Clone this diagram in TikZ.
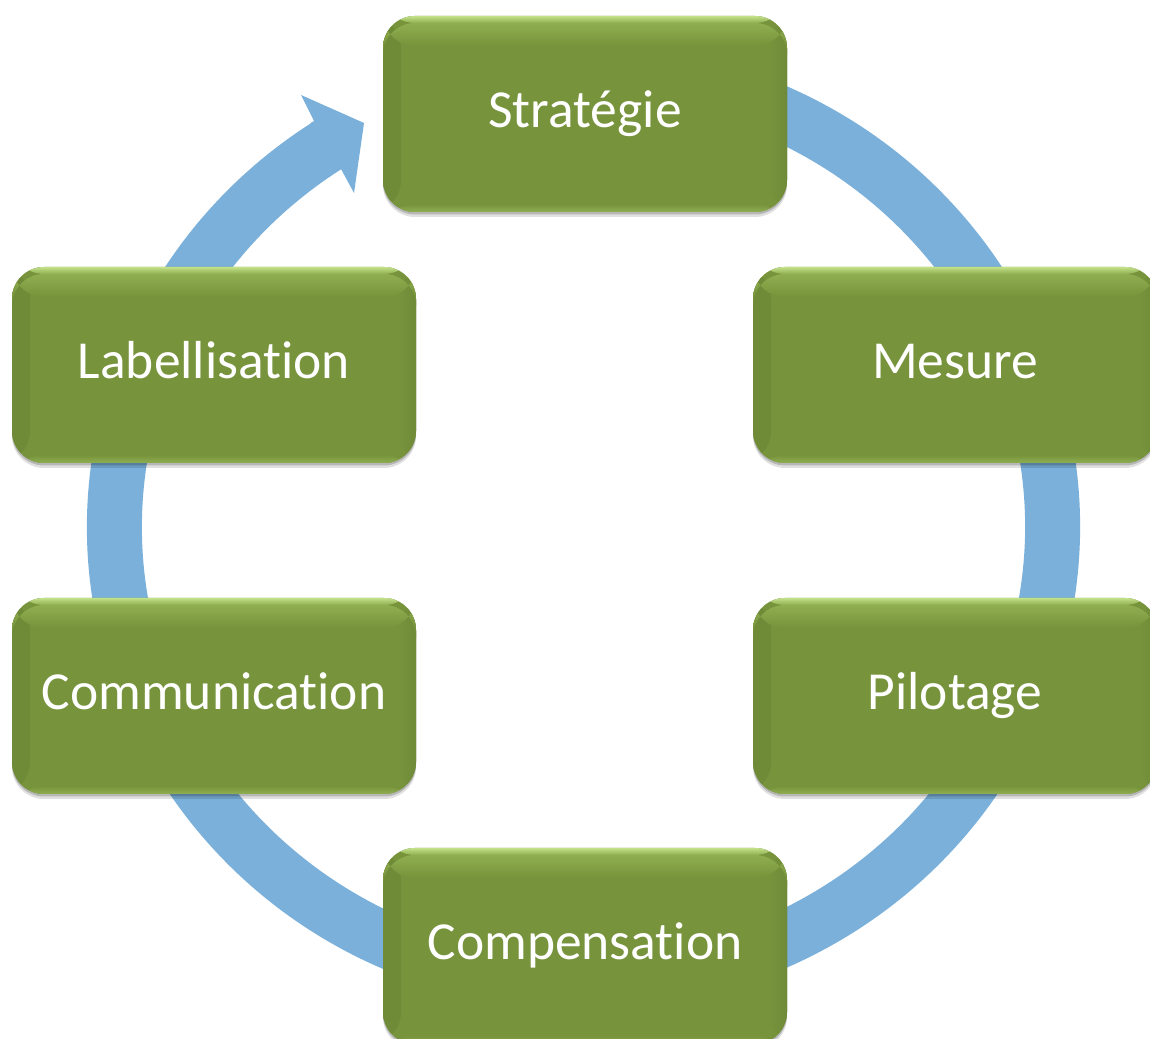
\documentclass[tikz,border=0pt]{standalone}
\usepackage{fontspec}
\setmainfont{Carlito}[Ligatures={NoCommon,NoContextual}, RawFeature={-liga;-clig;-dlig}]
\usetikzlibrary{shadows}
\definecolor{boxgreen}{HTML}{77933C}
\definecolor{boxlight}{HTML}{C2E189}
\definecolor{boxmid}{HTML}{8FAE50}
\definecolor{boxdark}{HTML}{6F8B38}
\definecolor{ringblue}{HTML}{7AB0DA}
\tikzset{
  stagebox/.style={rounded corners=32pt, fill=boxgreen, minimum width=404pt,
    minimum height=196pt, text=white, font=\fontsize{53.5pt}{62pt}\selectfont,
    text height=27pt, text depth=0pt, inner sep=0pt,
    drop shadow={shadow xshift=0pt, shadow yshift=-5pt, opacity=0.12, fill=black},
    drop shadow={shadow xshift=0pt, shadow yshift=-2.5pt, opacity=0.18, fill=black},
    path picture={
      \shade[left color=boxdark, right color=boxgreen]
        (path picture bounding box.south west) rectangle ([xshift=18pt]path picture bounding box.north west);
      \shade[right color=boxdark, left color=boxgreen]
        ([xshift=-18pt]path picture bounding box.south east) rectangle (path picture bounding box.north east);
      \shade[top color=boxmid, bottom color=boxgreen]
        ([yshift=-30pt]path picture bounding box.north west) rectangle ([yshift=-7pt]path picture bounding box.north east);
      \shade[top color=boxlight, bottom color=boxmid]
        ([yshift=-7pt]path picture bounding box.north west) rectangle (path picture bounding box.north east);
      \shade[bottom color=boxmid, top color=boxgreen]
        (path picture bounding box.south west) rectangle ([yshift=8pt]path picture bounding box.south east);
    }},
  ring/.style={draw=ringblue, line width=55pt},
  ringhead/.style={fill=ringblue},
}
\begin{document}
\begin{tikzpicture}[x=1pt, y=1pt]
  \useasboundingbox (0,0) rectangle (1150,1038);
  \fill[white] (0,0) rectangle (1150,1038);
  \clip (0,0) rectangle (1150,1038);
  % circular arrow
  \coordinate (C) at (583.5,511);
  \draw[ring] (C) ++(75:469pt and 455.5pt)
    arc[start angle=75, end angle=-236.9, x radius=469pt, y radius=455.5pt];
  \fill[ringhead] (301,943) -- (364,915) -- (354,845) -- (341,869)
    -- (337.6,866.9) -- (310.6,914.9) -- (314,917) -- cycle;
  % stages
  \node[stagebox] (strat) at (585,924) {Stratégie};
  \node[stagebox] (mesure) at (955,673) {Mesure};
  \node[stagebox] (pilot) at (955,342) {Pilotage};
  \node[stagebox] (comp) at (585,92) {Compensation};
  \node[stagebox] (comm) at (214,342) {Communication};
  \node[stagebox] (label) at (214,673) {Labellisation};
\end{tikzpicture}
\end{document}
